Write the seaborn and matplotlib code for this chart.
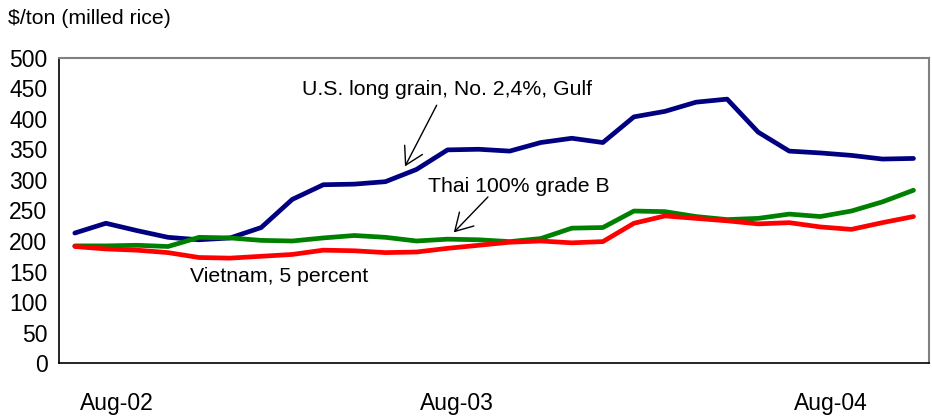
import numpy as np
import pandas as pd
import matplotlib
matplotlib.use("Agg")
import matplotlib.pyplot as plt
import seaborn as sns

# Monthly export prices, $/ton (milled rice)
us_long_grain = [213, 229, 217, 206, 202, 205, 222, 268, 292, 293, 297, 317, 349, 350,
                 347, 361, 368, 361, 403, 412, 427, 432, 378, 347, 344, 340, 334, 335]
thai_100b = [192, 192, 193, 191, 206, 205, 201, 200, 205, 209, 206, 200, 203, 202,
             199, 204, 221, 222, 249, 248, 240, 235, 237, 244, 240, 249, 264, 283]
vietnam_5 = [191, 187, 185, 181, 173, 172, 175, 178, 185, 184, 181, 182, 188, 193,
             198, 200, 197, 199, 229, 241, 237, 233, 228, 230, 223, 219, 230, 240]

series_names = ["U.S. long grain, No. 2,4%, Gulf", "Thai 100% grade B", "Vietnam, 5 percent"]
series_colors = ["#000080", "#008000", "#FF0000"]
tick_labels = ["Aug-02", "Aug-03", "Aug-04"]
yticks = list(range(0, 501, 50))

n = len(us_long_grain)
month_idx = np.arange(n)
df = pd.DataFrame({
    "month": np.tile(month_idx, 3),
    "price": us_long_grain + thai_100b + vietnam_5,
    "series": np.repeat(series_names, n),
})

sns.set_style("white")
plt.rcParams["font.family"] = ["Liberation Sans", "DejaVu Sans"]
plt.rcParams["text.color"] = "black"
plt.rcParams["xtick.color"] = "black"
plt.rcParams["ytick.color"] = "black"
plt.rcParams["xtick.labelcolor"] = "black"
plt.rcParams["ytick.labelcolor"] = "black"

fig = plt.figure(figsize=(9.32, 4.2), dpi=100)
ax = fig.add_axes([0.0636, 0.135, 0.9332, 0.728])

sns.lineplot(data=df, x="month", y="price", hue="series", hue_order=series_names,
             palette=series_colors, linewidth=3.4, legend=False, ax=ax,
             solid_capstyle="round", solid_joinstyle="round")

ax.set_xlim(-0.5, n - 0.5)
ax.set_ylim(0, 500)
ax.set_xlabel("")
ax.set_ylabel("")

# y axis
ax.set_yticks(yticks)
ax.set_yticklabels([str(v) for v in yticks], fontsize=16.5, color="black")
ax.tick_params(axis="y", which="major", direction="out", length=7, width=1,
               color="black", labelcolor="black", pad=1.5)

# x axis: ticks on month boundaries, year labels below
ax.set_xticks(np.arange(-0.5, n, 1.0), minor=True)
label_pos = [1.35, 12.3, 24.35]
ax.set_xticks(label_pos)
ax.set_xticklabels(tick_labels, fontsize=16.5, color="black")
ax.tick_params(axis="x", which="major", length=0, pad=21, labelcolor="black")
ax.tick_params(axis="x", which="minor", direction="out", length=7, width=1, color="black")

for side in ["top", "right"]:
    ax.spines[side].set_color("#808080")
    ax.spines[side].set_linewidth(1.5)
for side in ["left", "bottom"]:
    ax.spines[side].set_color("black")
    ax.spines[side].set_linewidth(1.2)

ax.grid(False)

arrow_kw = dict(arrowstyle="->,head_length=0.62,head_width=0.36", color="black",
                lw=1, mutation_scale=20, shrinkA=0, shrinkB=0)

# Series labels with pointers
ax.text(7.31, 448, series_names[0], fontsize=15.3, ha="left", va="center", color="black")
ax.annotate("", xy=(10.63, 322), xytext=(11.65, 422), arrowprops=arrow_kw)

ax.text(11.37, 289, series_names[1], fontsize=15.3, ha="left", va="center", color="black")
ax.annotate("", xy=(12.2, 214), xytext=(13.3, 272), arrowprops=arrow_kw)

ax.text(3.71, 142, series_names[2], fontsize=15.3, ha="left", va="center", color="black")

fig.text(8 / 932, 1 - 18 / 420, "$/ton (milled rice)", fontsize=15.3,
         ha="left", va="center", color="black")

fig.savefig("out.png", dpi=100)
